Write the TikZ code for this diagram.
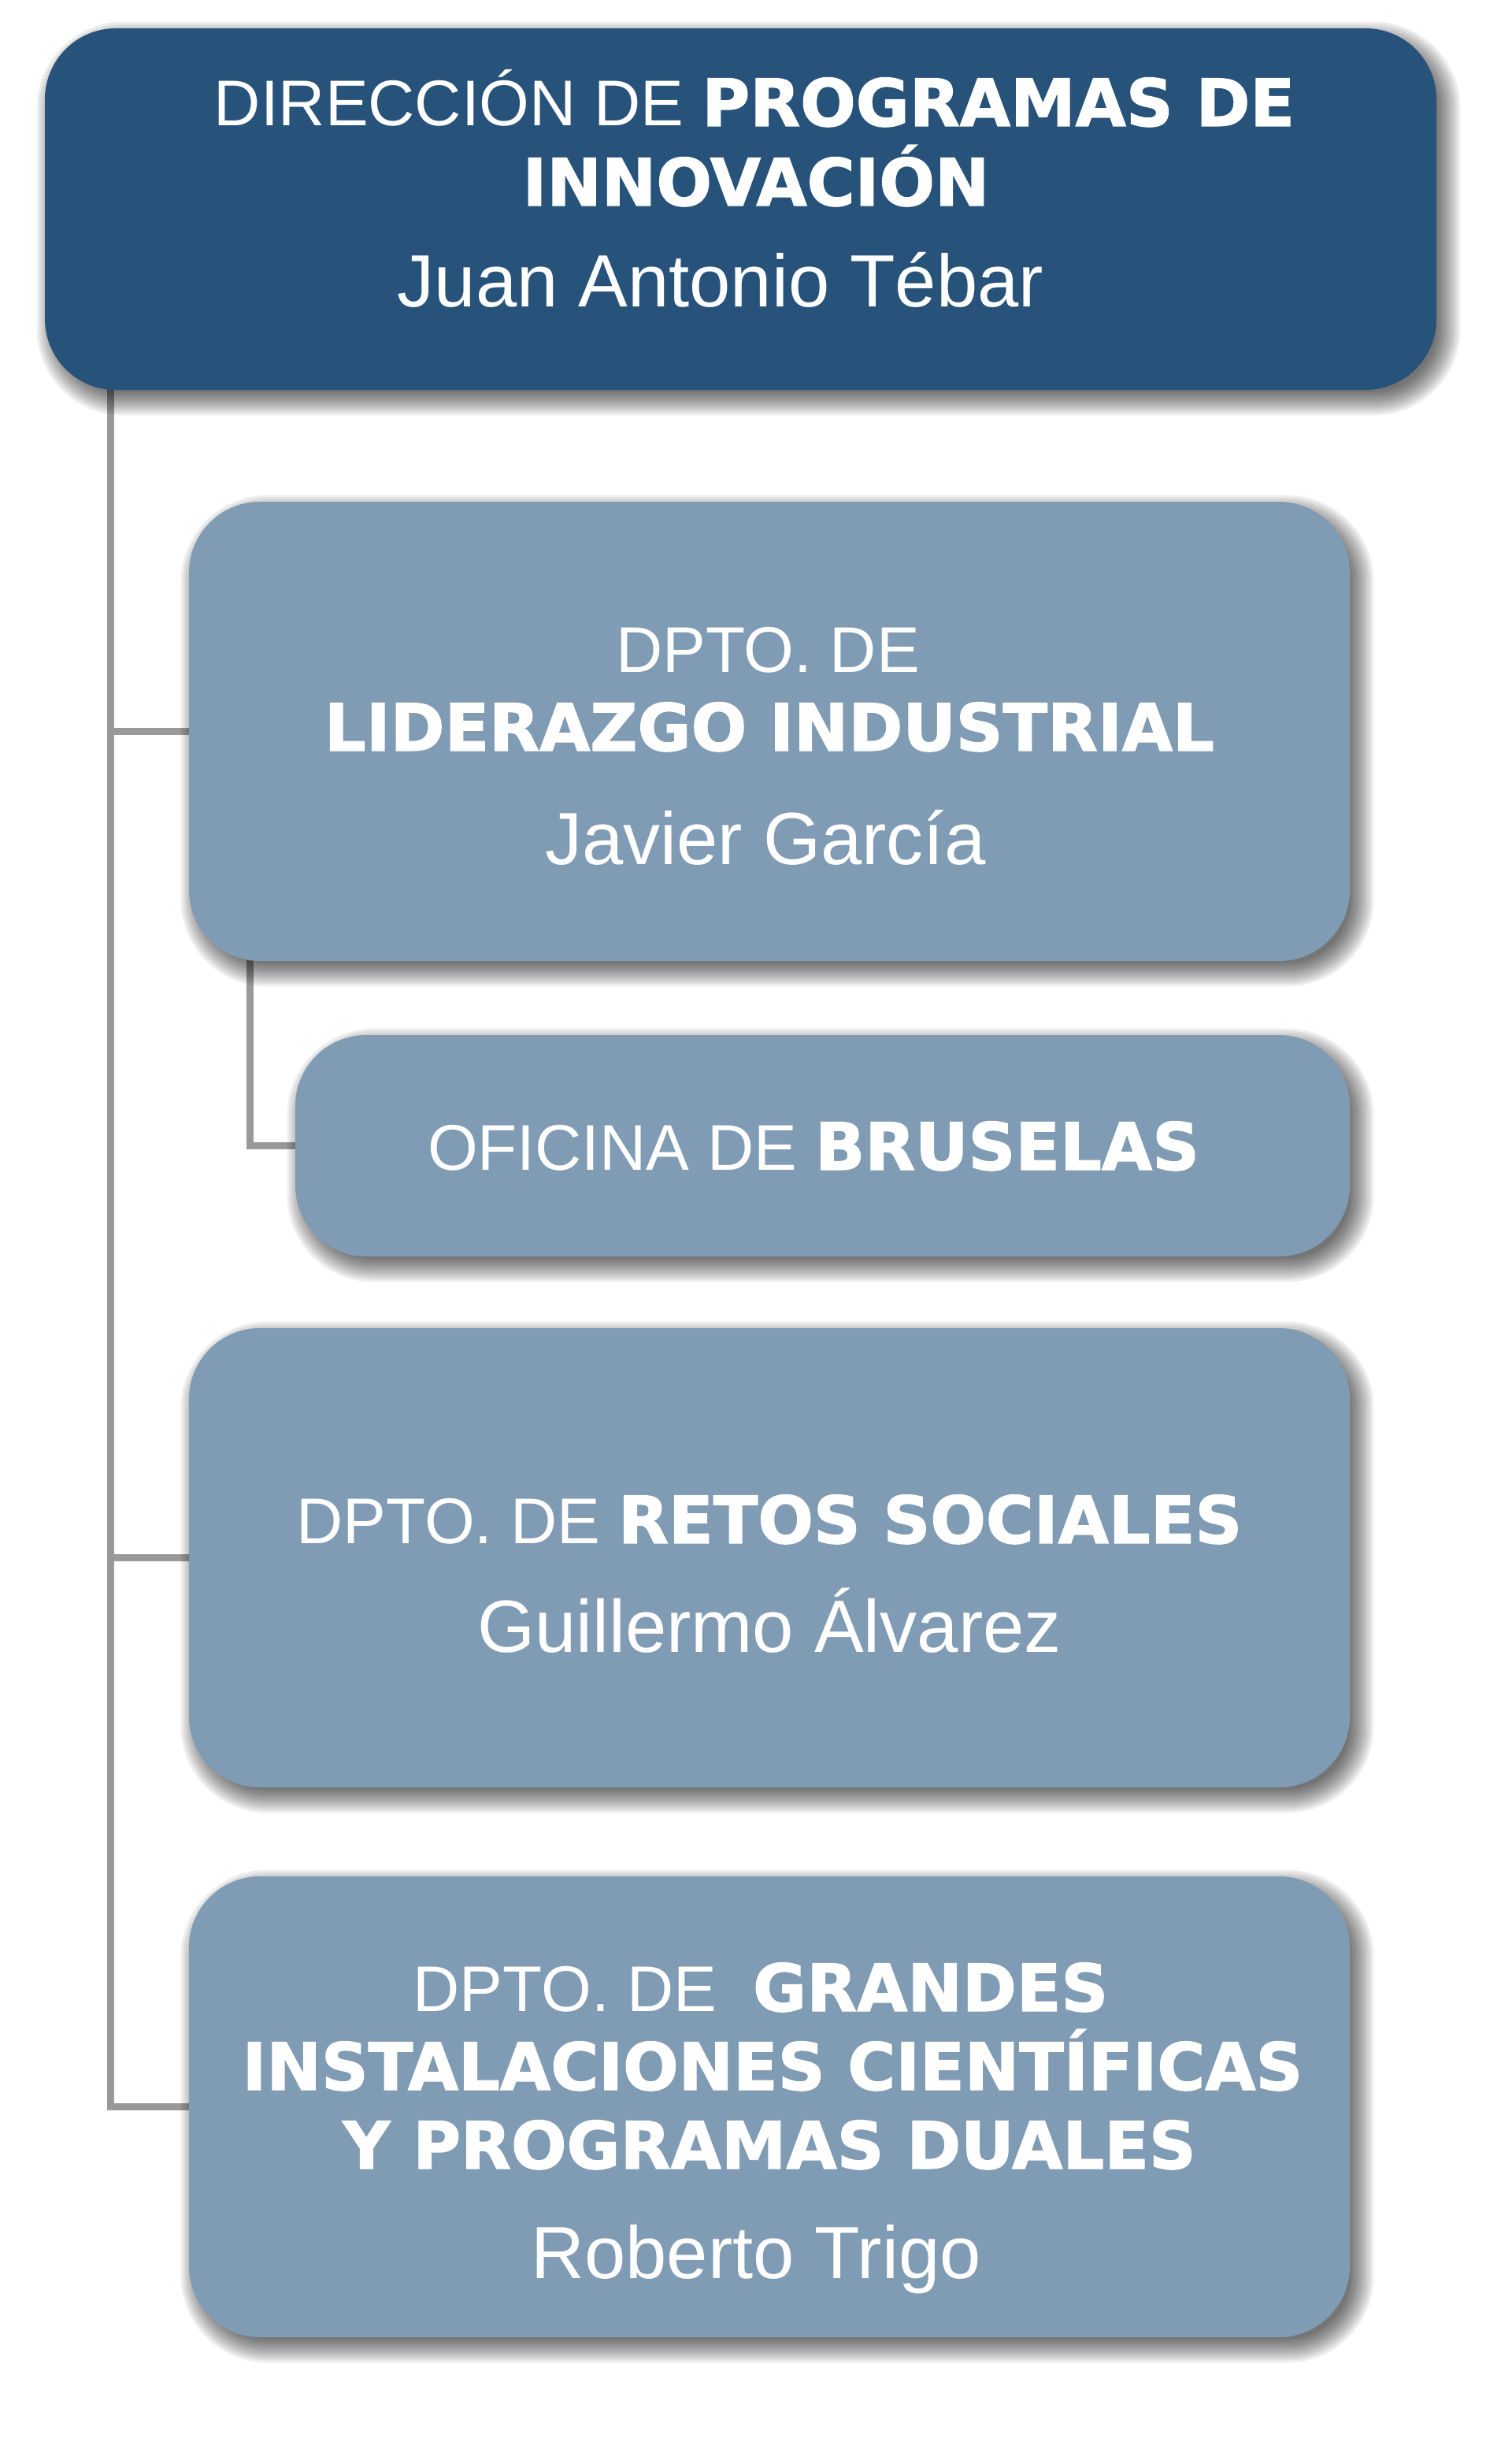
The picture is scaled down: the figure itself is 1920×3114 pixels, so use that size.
\documentclass[tikz,border=0pt]{standalone}
\usepackage{fontspec}
\setmainfont{Liberation Sans}
\newfontfamily\heavyfam{DejaVu Sans}[BoldFeatures={FakeBold=1.5}]
\usetikzlibrary{backgrounds}
\definecolor{darkbox}{HTML}{27527A}
\definecolor{lightbox}{HTML}{809BB4}
\definecolor{linegray}{HTML}{999999}
\newcommand\heavytxt[1]{{\heavyfam\bfseries\fontsize{41.5}{50}\selectfont #1}}
\begin{document}
\begin{tikzpicture}[x=0.5pt, y=-0.5pt,
  box/.style={rounded corners=45pt, inner sep=0pt, draw=none},
  topbox/.style={box, fill=darkbox},
  deptbox/.style={box, fill=lightbox},
  conn/.style={draw=linegray, line width=4.5pt},
  shadowlayer/.style={fill=black, opacity=0.065},
  lbl/.style={anchor=base, text=white, inner sep=0pt},
  reg/.style={lbl, font=\fontsize{41}{49}\selectfont},
  nm/.style={lbl, font=\fontsize{47}{56}\selectfont}]
\begin{pgfonlayer}{background}
\fill[white] (0,0) rectangle (1920,3114);
\end{pgfonlayer}
\useasboundingbox (0,0) rectangle (1920,3114);

% boxes
\node[topbox, minimum width=883.5pt, minimum height=229.5pt] (b1) at (940.5,265.5) {};
\node[deptbox, minimum width=737pt, minimum height=291.5pt] (b2) at (977,928.5) {};
\node[deptbox, minimum width=669.5pt, minimum height=140.5pt] (b3) at (1044.5,1454.5) {};
\node[deptbox, minimum width=737pt, minimum height=291.5pt] (b4) at (977,1977.5) {};
\node[deptbox, minimum width=737pt, minimum height=292.5pt] (b5) at (977,2674.5) {};

% texts
\node[reg] (t1a) at (958,160) {DIRECCIÓN DE \heavytxt{PROGRAMAS DE}};
\node[reg] (t1b) at (960,261) {\heavytxt{INNOVACIÓN}};
\node[nm]  (t1c) at (915,390) {Juan Antonio Tébar};

\node[reg] (t2a) at (975,853) {DPTO. DE};
\node[reg] (t2b) at (977,953) {\heavytxt{LIDERAZGO INDUSTRIAL}};
\node[nm]  (t2c) at (972,1097) {Javier García};

\node[reg] (t3a) at (1033,1485) {OFICINA DE \heavytxt{BRUSELAS}};

\node[reg] (t4a) at (977,1959) {DPTO. DE \heavytxt{RETOS SOCIALES}};
\node[nm]  (t4b) at (977,2097) {Guillermo Álvarez};

\node[reg] (t5a) at (966,2553) {DPTO. DE\ \ \heavytxt{GRANDES}};
\node[reg] (t5b) at (981,2653) {\heavytxt{INSTALACIONES CIENTÍFICAS}};
\node[reg] (t5c) at (977,2753) {\heavytxt{Y PROGRAMAS DUALES}};
\node[nm]  (t5d) at (960,2892) {Roberto Trigo};

% connectors and shadows (behind the boxes)
\coordinate (trunk) at (140,480);
\coordinate (subtrunk) at (317,1200);
\begin{pgfonlayer}{background}
\draw[conn] (trunk) |- (b5.west);
\draw[conn] (trunk) |- (b2.west);
\draw[conn] (trunk) |- (b4.west);
\draw[conn] (subtrunk) |- (b3.west);
\foreach \bx in {b1,b2,b3,b4,b5}{
  \foreach \i in {0,...,10}{
    \pgfmathsetmacro\ee{-5+1.5*\i}
    \pgfmathsetmacro\rr{max(45+\ee,1)}
    \pgfmathsetmacro\xl{5-\ee}
    \pgfmathsetmacro\xr{5+\ee}
    \pgfmathsetmacro\yb{-6-\ee}
    \pgfmathsetmacro\yt{-6+\ee}
    \fill[shadowlayer, rounded corners=\rr pt]
      ([shift={(\xl pt,\yb pt)}]\bx.south west) rectangle ([shift={(\xr pt,\yt pt)}]\bx.north east);
  }
}
\end{pgfonlayer}
\end{tikzpicture}
\end{document}
